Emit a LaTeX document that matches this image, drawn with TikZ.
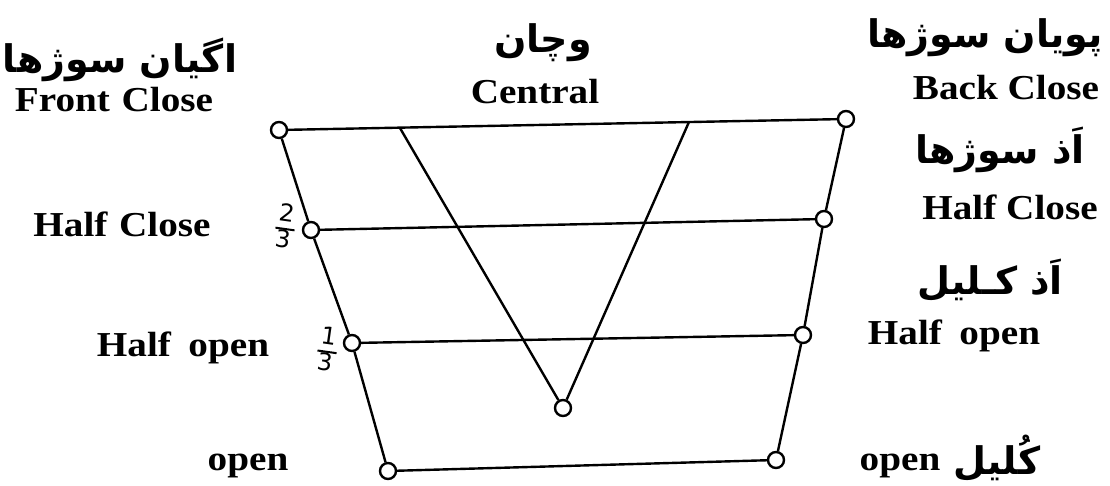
\documentclass[tikz,border=0pt]{standalone}
\usepackage{fontspec}
\setmainfont{Liberation Serif}[FakeStretch=1.12]
\newfontfamily\arabicfont[Script=Arabic]{DejaVu Sans}
\newfontfamily\handfont{DejaVu Sans}
\TeXXeTstate=1
\usetikzlibrary{calc}
\newcommand{\myfrac}[2]{\setlength{\arrayrulewidth}{2pt}\renewcommand\arraystretch{0.85}\begin{tabular}{@{\kern2pt}c@{\kern2pt}}#1\\\hline #2\end{tabular}}
\begin{document}
\begin{tikzpicture}[x=1pt,y=-1pt,
  pt/.style={circle,draw,line width=2.4pt,minimum size=16pt,inner sep=0pt},
  ln/.style={line width=2.4pt},
  lab/.style={font=\fontsize{35}{38}\selectfont\bfseries,inner sep=0pt,anchor=center},
  ar/.style={font=\fontsize{38}{42}\selectfont\arabicfont\bfseries,inner sep=0pt,anchor=center},
  frac/.style={font=\fontsize{24}{26}\selectfont\handfont,inner sep=0pt,anchor=center}]
\useasboundingbox (0,0) rectangle (1110,486);
% points
\node[pt] (fl) at (279,130) {};
\node[pt] (hcl) at (311,230) {};
\node[pt] (hol) at (352,343) {};
\node[pt] (ol) at (388,471) {};
\node[pt] (fr) at (846,119) {};
\node[pt] (hcr) at (824,219) {};
\node[pt] (hor) at (803,335) {};
\node[pt] (or) at (776,460) {};
\node[pt] (vb) at (563,408) {};
\coordinate (va) at ($(fl)!0.213!(fr)$);
\coordinate (vc) at ($(fl)!0.723!(fr)$);
% lines
\draw[ln] (fl) -- (fr);
\draw[ln] (hcl) -- (hcr);
\draw[ln] (hol) -- (hor);
\draw[ln] (ol) -- (or);
\draw[ln] (fl) -- (hcl);
\draw[ln] (hcl) -- (hol);
\draw[ln] (hol) -- (ol);
\draw[ln] (fr) -- (hcr);
\draw[ln] (hcr) -- (hor);
\draw[ln] (hor) -- (or);
\draw[ln] (va) -- (vb);
\draw[ln] (vc) -- (vb);
% labels
\node[ar] (a1) at (120,60) {\beginR اگیان سوژها\endR};
\node[lab] (t1) at (114,100) {Front\,\,Close};
\node[ar] (a2) at (543,43) {\beginR وچان\endR};
\node[lab] (t2) at (535,92) {Central};
\node[ar] (a3) at (985,38) {\beginR پویان سوژها\endR};
\node[lab] (t3) at (1006,88) {Back Close};
\node[ar] (a4) at (1000,150) {\beginR اَذ سوژها\endR};
\node[lab] (t4) at (1010,207) {Half Close};
\node[ar] (a5) at (990,280) {\beginR اَذ کـلیل\endR};
\node[lab] (t5) at (954,336) {Half\,\,\,open};
\node[lab] (t6) at (900,466) {open};
\node[ar] (a6) at (997,458) {\beginR کُلیل\endR};
\node[lab] (t7) at (122,224) {Half\,\,Close};
\node[frac,rotate=-8] (f1) at (285,229) {\myfrac{2}{3}};
\node[frac,rotate=-8] (f2) at (327,352) {\myfrac{1}{3}};
\node[lab] (t8) at (183,348) {Half\,\,\,open};
\node[lab] (t9) at (248,466) {open};
\end{tikzpicture}
\end{document}
